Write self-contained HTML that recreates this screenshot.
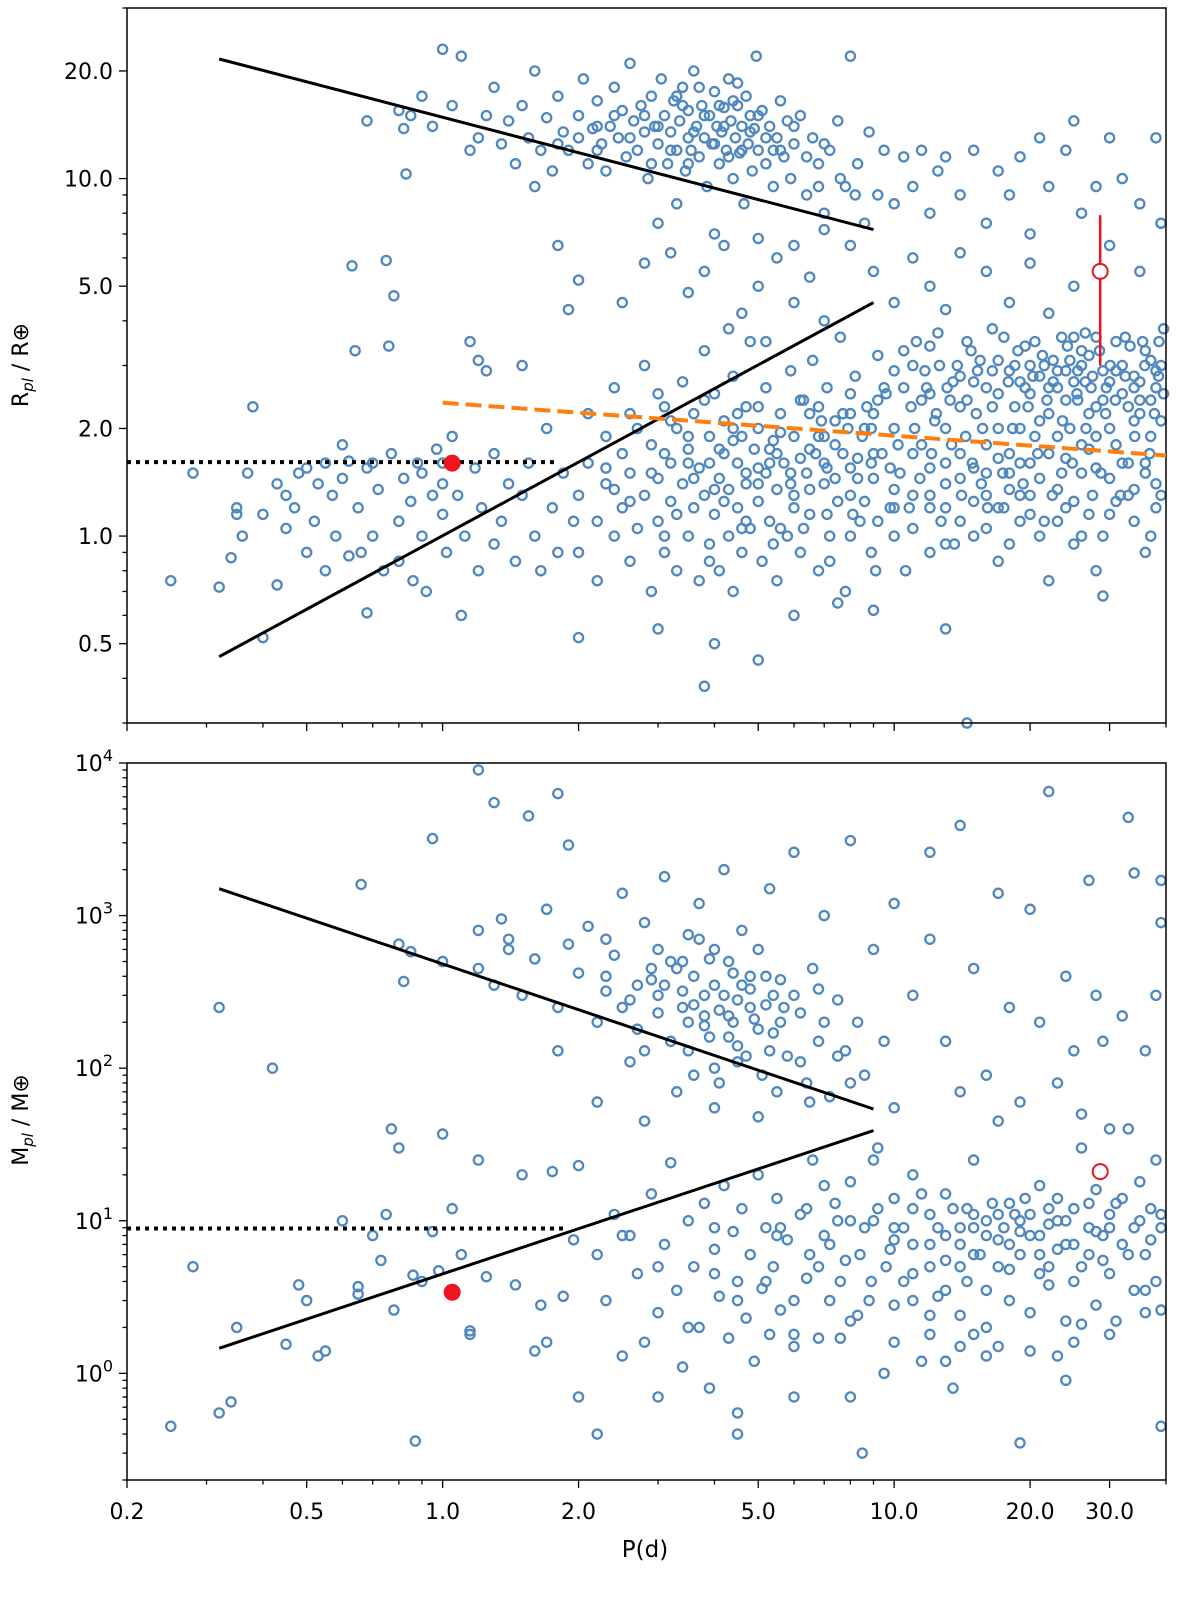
<!DOCTYPE html>
<html><head><meta charset="utf-8">
<style>
html,body{margin:0;padding:0;background:#fff;}
svg{display:block;font-family:"DejaVu Sans","Liberation Sans",sans-serif;}
</style></head>
<body>
<svg id="chart" width="1200" height="1602" viewBox="0 0 1200 1602" xmlns="http://www.w3.org/2000/svg">
<g id="topPanel"></g>
<g id="botPanel"></g>
<text transform="translate(28,365) rotate(-90)" text-anchor="middle" font-size="22">R<tspan font-size="15" dy="5" font-style="italic">pl</tspan><tspan dy="-5"> / R⊕</tspan></text>
<text transform="translate(28,1120) rotate(-90)" text-anchor="middle" font-size="22">M<tspan font-size="15" dy="5" font-style="italic">pl</tspan><tspan dy="-5"> / M⊕</tspan></text>
<text x="645" y="1557" text-anchor="middle" font-size="23">P(d)</text>
</svg>
<script>
// ---- data ----
const radiusPoints = "0.25 0.75,0.28 1.5,0.32 0.72,0.34 0.87,0.35 1.15,0.35 1.2,0.36 1.0,0.37 1.5,0.38 2.3,0.4 0.52,0.4 1.15,0.43 0.73,0.43 1.4,0.45 1.3,0.45 1.05,0.47 1.2,0.48 1.5,0.5 0.9,0.5 1.55,0.52 1.1,0.53 1.4,0.55 1.6,0.55 0.8,0.57 1.3,0.58 1.0,0.6 1.8,0.6 1.45,0.62 0.88,0.63 5.7,0.64 3.3,0.65 1.2,0.66 0.9,0.68 0.61,0.68 1.55,0.7 1.0,0.72 1.35,0.74 0.8,0.75 5.9,0.76 3.4,0.77 1.7,0.78 4.7,0.8 1.1,0.8 0.85,0.82 1.45,0.83 10.3,0.85 1.25,0.86 0.75,0.88 1.6,0.9 1.0,0.92 0.7,0.95 1.3,0.97 1.75,1.0 1.15,1.0 1.4,1.02 0.9,1.05 1.9,1.08 1.3,1.1 0.6,1.12 1.0,1.15 3.5,1.18 1.55,1.2 0.8,1.22 1.2,1.25 2.9,1.3 1.7,1.3 0.95,1.35 1.1,1.4 1.4,1.45 0.85,1.5 1.3,1.5 3.0,1.55 1.6,1.6 1.0,1.65 0.8,1.7 2.0,1.75 1.2,1.8 0.9,1.85 1.5,1.9 4.3,1.95 1.1,1.2 3.1,1.0 1.6,0.9 1.5,0.7 1.6,0.62 1.62,"+
"0.68 14.5,0.8 15.5,0.82 13.8,0.85 15,0.9 17,0.95 14,1.0 23,1.05 16,1.1 22,1.15 12,1.2 13,1.25 15,1.3 18,1.35 12.5,1.4 14.5,1.45 11,1.5 16,1.55 13,1.6 20,1.65 12,1.7 14.8,1.75 10.5,1.8 17,1.85 13.5,1.9 12,2.0 15,2.05 19,2.1 11,2.15 13.8,2.2 16.5,2.25 12.5,2.3 10.5,2.35 14,2.4 18,2.45 13,2.5 15.5,2.55 11.5,2.6 21,2.65 14.5,2.7 12,2.75 16,2.8 13.5,2.85 10,2.9 17,2.95 14,3.0 12.5,3.05 19,3.1 15,3.15 11,3.2 13.5,3.25 16.5,3.3 12,3.35 14.5,3.4 18,3.45 10.5,3.5 13,3.5 15.5,3.55 12,3.6 20,3.65 14,3.7 11.5,3.75 16,3.8 13,3.85 9.5,3.9 15,3.95 12.5,4.0 17.5,4.05 14,4.1 11,4.15 13.5,4.2 15.8,4.25 12,4.3 19,4.35 14.5,4.4 10,4.45 13,4.5 16,4.55 11.8,4.6 14,4.65 8.5,4.7 17,4.75 12.5,4.8 15,4.85 10.5,4.9 13.8,4.95 22,5.0 12,5.1 15.5,5.2 11,5.3 14,5.4 9.5,5.5 13,5.6 16.5,5.7 11.5,5.8 14.5,5.9 10,6.0 12.5,6.2 15,6.4 9,6.6 13,6.8 11,7.0 8,7.2 12,7.5 14.5,7.8 9.5,8.0 22,8.3 11,8.6 7.5,8.8 13.5,9.2 9,9.5 12,10 8.5,10.5 11.5,11 9.5,11.5 12,12 8,12.5 10.5,13 11.5,14 9,15 12,16 7.5,17 10.5,18 9,19 11.5,20 7,21 13,22 9.5,24 12,25 14.5,26 8,28 9.5,30 13,32 10,35 8.5,38 13,39 7.5,3.0 7.5,3.3 8.5,2.2 12,1.6 9.5,5.0 6.8,4.0 7.0,6.0 6.5,7 7.2,"+
"2.6 13,2.8 15,3.0 14,3.2 12,3.4 16,3.6 13.5,3.8 15,4.0 12.5,4.2 14,4.4 16.5,4.6 12,4.8 13.5,5.0 15,5.2 13,5.4 12,3.3 17,3.7 18,4.1 16,4.5 18.5,2.9 11,3.5 11,4.3 11.5,5.6 12,6.0 14,6.4 11.5,7.0 12.5,6.8 9.5,7.6 10,8.2 9,2.4 15,2.2 14,2.0 13,1.8 12.5,"+
"2.0 5.2,2.5 4.5,2.8 5.8,3.2 6.2,3.5 4.8,3.8 5.5,4.2 6.5,4.6 4.2,5.0 5.0,5.5 6.0,6.0 4.5,6.5 5.3,7 4.0,8 6.5,9 5.5,10 4.5,11 6.0,12 5.0,13 4.3,14 6.2,16 5.5,18 4.5,20 5.8,22 4.2,25 5.0,30 6.5,35 5.5,39 7.5,1.8 6.5,4.3 3.8,5.2 3.5,"+
"2.0 1.3,2.0 0.9,2.1 1.6,2.1 2.2,2.2 1.1,2.2 0.75,2.3 1.4,2.3 1.9,2.4 1.0,2.4 2.6,2.5 1.2,2.5 1.7,2.6 0.85,2.6 1.5,2.7 2.0,2.7 1.05,2.8 1.3,2.8 3.0,2.9 0.7,2.9 1.8,3.0 1.1,3.0 1.45,3.1 2.3,3.1 0.9,3.2 1.6,3.2 1.25,3.3 2.0,3.3 0.8,3.4 1.4,3.4 2.7,3.5 1.0,3.5 1.75,3.6 1.2,3.6 2.2,3.7 0.75,3.7 1.55,3.8 1.3,3.8 3.3,3.9 0.95,3.9 1.9,4.0 1.15,4.0 2.5,4.1 1.45,4.1 0.8,4.2 1.7,4.2 2.1,4.3 1.0,4.3 1.35,4.4 2.8,4.4 0.7,4.5 1.6,4.5 1.2,4.6 1.9,4.6 0.9,4.7 2.3,4.7 1.4,4.8 1.05,4.8 3.5,4.9 1.75,5.0 1.25,5.0 2.0,5.1 0.85,5.2 1.5,5.2 2.6,5.3 1.1,5.4 1.85,5.5 0.75,5.5 1.35,5.6 2.2,5.7 1.6,5.8 1.0,5.9 2.9,6.0 1.3,6.0 1.9,6.2 0.9,6.3 2.4,6.4 1.5,6.5 1.15,6.6 3.1,6.7 1.7,6.8 0.8,6.9 2.1,7.0 1.4,7.1 2.6,7.2 1.0,7.4 1.8,7.5 1.25,7.6 3.6,7.8 0.7,7.9 2.0,8.0 1.55,8.2 2.8,8.4 1.1,8.5 1.9,8.7 2.3,8.9 0.9,9.0 1.45,9.2 3.2,9.4 1.7,9.6 2.5,9.8 1.2,10 2.0,10 2.9,10.3 1.5,10.6 0.8,10.9 2.3,11.2 3.5,11.5 1.8,11.8 2.6,12 1.3,12.3 2.1,12.6 3.0,13 1.6,13.3 2.4,13.6 0.95,14 2.8,14.4 1.9,14.8 3.3,15.2 2.2,15.6 1.4,16 2.6,16.5 3.8,17 2.0,17.5 1.2,18 2.9,18.5 2.3,19 1.6,19.5 3.4,20 2.5,20.5 1.9,21 2.8,21.5 1.1,22 2.2,22.5 3.1,23 2.6,23.5 1.5,24 2.9,24.5 2.0,25 3.6,25.5 2.4,26 1.8,26.5 2.7,27 3.2,27.5 1.3,28 2.3,29 2.9,30 2.0,31 3.5,32 2.5,33 1.6,34 2.8,35 2.2,36 3.3,37 1.9,38 2.6,39 2.1,39 3.0,12 2.5,13 2.0,14 2.3,15 2.7,16 1.8,17 2.5,18 1.7,19 2.7,20 3.0,21 2.1,22 2.6,23 1.9,24 2.4,25 2.7,26 3.0,27 2.2,28 1.9,29 2.4,30 2.7,31 1.8,32 3.0,33 2.3,34 2.1,35 2.7,36 1.6,37 2.4,38 2.9,10 1.0,11 1.3,12 0.9,13 1.2,14 1.45,15 1.0,16 1.3,17 0.85,18 1.5,19 1.1,20 1.3,22 0.75,24 1.2,26 1.0,28 0.8,30 1.15,33 1.3,36 0.9,38 1.4,29 0.68,6 0.6,7.5 0.65,9 0.62,13 0.55,3 0.55,4 0.5,5 0.45,3.8 0.38,14.5 0.3,2.0 0.52,11 3.0,12 3.4,9 2.2,8 2.5,7 1.9,6.5 2.2,5.5 1.7,4.5 2.2,3.5 1.9,3 2.5,2.6 1.25,4 1.35,5 1.55,6 1.2,7 1.6,8 1.3,9 1.7,10 1.35,11 1.7,12 1.55,13 1.4,14 1.7,15 1.55,16 1.5,17 1.65,18 1.35,19 2.0,20 1.6,21 1.45,22 1.7,23 1.35,24 1.65,25 1.25,26 1.5,27 1.75,28 1.55,30 1.45,32 1.6,34 1.35,36 1.5,38 1.2,"+
"3.1 1.7,3.3 1.15,3.6 1.45,3.9 1.6,4.2 1.25,4.4 1.85,4.7 1.1,5.0 1.4,5.3 1.75,5.6 1.05,5.9 1.5,6.2 1.65,6.5 1.35,6.8 1.9,7.1 1.15,7.4 1.45,7.7 2.2,8.0 1.0,8.3 1.65,8.6 1.25,8.9 2.0,9.2 1.1,9.5 2.6,9.8 1.55,10.2 1.8,10.5 2.6,10.8 1.2,11.1 2.0,11.4 1.45,11.7 2.9,12.1 1.7,12.4 2.2,12.7 1.1,13.1 2.6,13.4 1.8,13.8 3.0,14.1 1.3,14.5 2.4,14.9 1.6,15.3 2.9,15.7 2.0,16.1 1.2,16.5 2.3,17 3.1,17.4 1.5,17.9 2.7,18.3 2.0,18.8 3.3,19.3 1.4,19.8 2.3,20.3 2.8,20.8 1.7,21.3 3.2,21.8 2.4,22.4 1.3,23 2.9,23.6 2.1,24.2 3.4,24.8 1.6,25.4 2.5,26 3.3,26.6 2.0,27.3 2.6,28 3.6,28.7 1.5,29.4 2.2,30.1 3.0,30.9 2.4,31.7 1.3,32.5 2.8,33.3 3.4,34.1 1.9,35 2.4,35.9 3.0,36.8 1.7,37.7 2.2,38.6 3.5,39.5 2.5,"+
"2.4 1.35,3.1 1.0,3.9 0.85,4.6 1.05,5.4 0.95,6.3 1.05,7.2 0.85,8.1 1.15,9.1 0.8,10 1.2,11 1.05,12 1.2,13 0.95,14 1.1,15 1.25,16 1.05,17 1.2,18 0.95,19 1.3,20 1.15,21 1.0,23 1.1,25 0.95,27 1.15,29 1.0,31 1.25,34 1.1,37 1.0,39 1.3,"+
"10.5 3.3,11.5 2.4,12.5 3.7,13.5 2.7,14.5 3.5,15.5 3.1,16.5 2.9,17.5 3.6,18.5 3.0,19.5 2.6,20.5 3.5,21.5 3.0,22.5 2.7,23.5 3.6,24.5 3.1,25.5 2.9,26.5 3.7,27.5 2.8,28.5 3.3,29.5 2.6,31 2.9,32.5 3.6,34 2.6,35.5 3.5,37 3.1,38.5 2.8,39.5 3.8,"+
"2.3 1.55,2.6 2.2,2.9 1.5,3.2 2.1,3.5 1.6,3.8 2.4,4.1 1.75,4.4 2.0,4.7 1.5,5.0 2.3,5.3 1.6,5.6 1.95,5.9 1.4,6.2 2.4,6.5 1.75,6.8 2.3,7.1 1.55,7.4 2.1,7.7 1.7,8.0 2.2,8.3 1.45,8.6 2.0,8.9 1.6,9.2 2.4";
const massPoints = "0.25 0.45,0.28 5,0.32 0.55,0.32 250,0.34 0.65,0.35 2.0,0.42 100,0.45 1.55,0.48 3.8,0.5 3.0,0.53 1.3,0.55 1.4,0.6 10,0.65 3.3,0.65 3.7,0.66 1600,0.7 8,0.73 5.5,0.75 11,0.77 40,0.78 2.6,0.8 30,0.8 650,0.82 370,0.85 580,0.86 4.4,0.87 0.36,0.9 4,0.95 8.5,0.95 3200,0.98 4.7,1.0 37,1.0 500,1.05 12,1.1 6,1.15 1.8,1.2 25,1.2 800,1.25 4.3,1.3 5500,1.35 950,1.4 600,1.45 3.8,1.5 20,1.55 4500,1.6 1.4,1.65 2.8,1.7 1.6,1.75 21,1.8 6300,1.85 3.2,1.9 2900,1.95 7.5,2.0 23,2.0 0.7,1.2 9000,1.15 1.9,"+
"1.2 450,1.3 350,1.4 700,1.5 300,1.6 520,1.7 1100,1.8 250,1.9 650,2.0 420,2.1 850,2.2 200,2.3 320,2.4 550,2.5 1400,2.6 280,2.7 180,2.8 900,2.9 380,3.0 230,3.0 600,3.1 1800,3.2 150,3.3 450,3.4 320,3.5 750,3.5 130,3.6 260,3.7 1200,3.8 190,3.9 520,4.0 350,4.0 100,4.1 240,4.2 2000,4.3 160,4.4 420,4.5 280,4.6 800,4.7 120,4.8 330,4.9 210,5.0 600,5.1 90,5.2 260,5.3 1500,5.4 170,5.6 380,5.8 120,6.0 2600,6.2 230,6.4 80,6.6 450,6.8 150,7.0 1000,7.2 65,7.5 280,7.8 130,8.0 3100,8.3 200,8.6 90,9.0 600,9.5 150,2.2 60,2.8 45,3.3 70,4.0 55,5.0 48,3.6 90,2.6 110,1.8 130,4.5 140,5.5 70,6.5 60,3.8 300,4.3 220,3.1 350,2.9 450,4.8 400,5.7 250,6.8 330,3.4 500,2.3 700,"+
"3 300,3.2 500,3.4 250,3.6 400,3.8 220,4 600,4.2 300,4.4 200,4.6 350,4.8 250,5 180,5.2 400,5.4 300,5.6 200,3.9 160,4.5 110,5.3 130,6.2 110,2.7 350,2.5 250,2.3 400,3.7 700,4.3 500,6 300,7 200,7.5 120,8 80,2.8 130,3.5 200,4.1 80,"+
"10 1200,11 300,12 700,13 150,14 3900,15 450,16 90,17 1400,18 250,19 60,20 1100,21 200,22 6500,23 80,24 400,25 130,26 50,27 1700,28 300,29 150,30 40,32 220,33 4400,34 1900,36 130,38 300,39 1700,39 900,12 2600,10 55,14 70,17 45,"+
"2.2 6,2.3 3,2.4 11,2.5 1.3,2.6 8,2.7 4.5,2.8 1.6,2.9 15,3.0 2.5,3.1 7,3.2 24,3.3 3.5,3.4 1.1,3.5 10,3.6 5,3.7 2,3.8 13,3.9 0.8,4.0 6.5,4.1 3.2,4.2 17,4.3 1.7,4.4 8.5,4.5 0.55,4.5 4,4.6 12,4.7 2.3,4.8 6,4.9 1.2,5.0 20,5.1 3.6,5.2 9,5.3 1.8,5.4 5,5.5 14,5.6 2.6,5.8 7.5,6.0 1.5,6.2 11,6.4 4.2,6.6 25,6.8 1.7,7.0 8,7.2 3,7.4 13,7.6 1.7,7.8 5.5,8.0 0.7,8.0 18,8.3 2.4,8.6 9,8.9 4,9.2 30,9.5 1.0,9.8 6.5,10 14,10 2.8,10.5 9,11 4.5,11 20,11.5 1.2,12 7,12 11,12.5 3.2,13 15,13 5.5,13.5 0.8,14 9,14 2.4,14.5 12,15 6,15 25,16 3.5,16 10,17 7.5,17 1.5,18 13,18 4.8,19 8.5,19 0.35,20 11,20 2.5,21 6,21 17,22 3.8,22 9.5,23 14,23 1.3,24 7,24 0.9,25 12,25 4,26 30,26 2.1,27 9,27 6,28 2.8,28 16,29 8,30 11,30 4.5,31 2.2,32 14,32 7,33 40,34 9,34 3.5,35 18,36 6,36 2.5,37 12,38 4,38 25,39 9,39 2.6,39 0.45,8.5 0.3,6 0.7,4.5 0.4,3 0.7,2.2 0.4,12 1.8,16 1.3,20 1.4,25 1.6,15 1.8,22 5,18 7,14 5,10 7.5,9 10,11 12,13 8,15 9,17 11,19 10,21 8,23 10,6.5 6,7.5 10,5.5 8,4 9,"+
"5.2 4,5.6 9,6 3,6.4 12,6.8 5,7.2 7,7.6 4,8 10,8.4 6,8.8 3,9.2 12,9.6 5,10 9,10.5 4,11 7,11.5 15,12 5,12.5 9,13 3.5,13.5 12,14 7,14.5 4,15 11,15.5 6,16 8,16.5 13,17 5,17.5 9,18 3,18.5 11,19 6,19.5 14,20 8,21 4.5,22 12,23 6.5,24 10,25 7,26 5,27 13,28 8.5,29 5.5,30 9,31 13,33 6,35 10,37 7.5,39 11,6 1.8,8 2.2,10 1.6,12 2.4,14 1.5,16 2.0,3.5 2.0,4 4.5,4.5 3,3 5,2.5 8,7 17,9 25,11 3,13 1.2,24 2.2,30 1.8,36 3.5";
const xTickLabels = [0.2, 0.5, 1, 2, 5, 10, 20, 30];
const xTickText = ["0.2","0.5","1.0","2.0","5.0","10.0","20.0","30.0"];
const rTickVals = [0.5, 1, 2, 5, 10, 20];
const rTickText = ["0.5","1.0","2.0","5.0","10.0","20.0"];
const mTickExp = [0, 1, 2, 3, 4];
const rUpperLine = [[0.32, 21.6], [9, 7.2]];
const rLowerLine = [[0.32, 0.46], [9, 4.5]];
const rOrangeLine = [[1.0, 2.36], [40, 1.68]];
const rDotted = [[0.2, 1.61], [1.8, 1.61]];
const rRedFilled = [1.05, 1.6];
const rRedOpen = [28.6, 5.5, 3.0, 7.9];
const mUpperLine = [[0.32, 1500], [9, 54]];
const mLowerLine = [[0.32, 1.46], [9, 39]];
const mDotted = [[0.2, 8.9], [1.85, 8.9]];
const mRedFilled = [1.05, 3.4];
const mRedOpen = [28.6, 21];

// ---- axes ----
const X0=127, X1=1166, xMin=Math.log10(0.2), xMax=Math.log10(40);
const xS = p => X0 + (Math.log10(p)-xMin)/(xMax-xMin)*(X1-X0);
const T={y0:8,y1:723,min:Math.log10(0.3),max:Math.log10(30)};
const B={y0:763,y1:1480,min:Math.log10(0.2),max:4};
const yS = (P,v) => P.y1 - (Math.log10(v)-P.min)/(P.max-P.min)*(P.y1-P.y0);
const NS="http://www.w3.org/2000/svg";
function mk(parent,tag,attrs){const e=document.createElementNS(NS,tag);for(const k in attrs)e.setAttribute(k,attrs[k]);parent.appendChild(e);return e;}
const parse = s => s.split(",").map(t=>t.trim().split(/\s+/).map(Number));

function panel(g,P,pts){
  const col="#4f88bf";
  parse(pts).forEach(([p,v])=>{
    const c=mk(g,"circle",{cx:xS(p),cy:yS(P,v),r:4.6,fill:"none",stroke:col,"stroke-width":2.3});
    
    
  });
  const f=mk(g,"rect",{x:X0,y:P.y0,width:X1-X0,height:P.y1-P.y0,fill:"none",stroke:"#000","stroke-width":1.5});
  
  
  for(let d=-1;d<=1;d++)for(let m=1;m<=9;m++){
    const v=m*Math.pow(10,d); if(v<0.2||v>40) continue;
    const major=xTickLabels.some(t=>Math.abs(t-v)<1e-9);
    const t=mk(g,"line",{x1:xS(v),x2:xS(v),y1:P.y1,y2:P.y1+(major?8:4.5),stroke:"#000","stroke-width":1.3});
    
    
  }
}

const topG=document.getElementById("topPanel"), botG=document.getElementById("botPanel");
panel(topG,T,radiusPoints);
panel(botG,B,massPoints);

for(let d=-1;d<=1;d++)for(let m=1;m<=9;m++){
  const v=m*Math.pow(10,d); if(v<0.3||v>30) continue;
  const major=rTickVals.some(t=>Math.abs(t-v)<1e-9);
  const t=mk(topG,"line",{x1:X0-(major?8:4.5),x2:X0,y1:yS(T,v),y2:yS(T,v),stroke:"#000","stroke-width":1.3});
  
  
}
rTickVals.forEach((v,i)=>{
  const t=mk(topG,"text",{x:X0-14,y:yS(T,v)+8,"text-anchor":"end","font-size":22});
  t.textContent=rTickText[i];
  
  
});
for(let d=-1;d<=3;d++)for(let m=1;m<=9;m++){
  const v=m*Math.pow(10,d); if(v<0.2||v>1e4) continue;
  const major=(m===1);
  const t=mk(botG,"line",{x1:X0-(major?8:4.5),x2:X0,y1:yS(B,v),y2:yS(B,v),stroke:"#000","stroke-width":1.3});
  
  
}
mk(botG,"line",{x1:X0-8,x2:X0,y1:yS(B,1e4),y2:yS(B,1e4),stroke:"#000","stroke-width":1.3});
mTickExp.forEach(e=>{
  const t=mk(botG,"text",{x:X0-14,y:yS(B,Math.pow(10,e))+8,"text-anchor":"end","font-size":22});
  t.innerHTML='10<tspan dy="-10" font-size="16">'+e+'</tspan>';
  
  
});
xTickLabels.forEach((v,i)=>{
  const t=mk(botG,"text",{x:xS(v),y:1519,"text-anchor":"middle","font-size":22});
  t.textContent=xTickText[i];
  
  
});

function line(g,P,pts,attrs,name){
  const l=mk(g,"line",Object.assign({x1:xS(pts[0][0]),y1:yS(P,pts[0][1]),x2:xS(pts[1][0]),y2:yS(P,pts[1][1]),fill:"none"},attrs));
  
  
}
const solid={stroke:"#000","stroke-width":3};
line(topG,T,rUpperLine,solid,"upper-boundary-line");
line(topG,T,rLowerLine,solid,"lower-boundary-line");
line(topG,T,rOrangeLine,{stroke:"#ff7f0e","stroke-width":4,"stroke-dasharray":"16,7"},"radius-valley-line");
line(topG,T,rDotted,{stroke:"#000","stroke-width":4,"stroke-dasharray":"4,5"},"target-radius-line");
line(botG,B,mUpperLine,solid,"upper-boundary-line");
line(botG,B,mLowerLine,solid,"lower-boundary-line");
line(botG,B,mDotted,{stroke:"#000","stroke-width":4,"stroke-dasharray":"4,5"},"target-mass-line");

let e;
e=mk(topG,"line",{x1:xS(rRedOpen[0]),x2:xS(rRedOpen[0]),y1:yS(T,rRedOpen[2]),y2:yS(T,rRedOpen[3]),stroke:"#e8141e","stroke-width":2.5});


e=mk(topG,"circle",{cx:xS(rRedOpen[0]),cy:yS(T,rRedOpen[1]),r:7.5,fill:"#fff",stroke:"#e8141e","stroke-width":2});


e=mk(topG,"circle",{cx:xS(rRedFilled[0]),cy:yS(T,rRedFilled[1]),r:8.5,fill:"#f0141e"});


e=mk(botG,"circle",{cx:xS(mRedOpen[0]),cy:yS(B,mRedOpen[1]),r:7.5,fill:"#fff",stroke:"#e8141e","stroke-width":2});


e=mk(botG,"circle",{cx:xS(mRedFilled[0]),cy:yS(B,mRedFilled[1]),r:8.5,fill:"#f0141e"});


</script>
</body></html>
